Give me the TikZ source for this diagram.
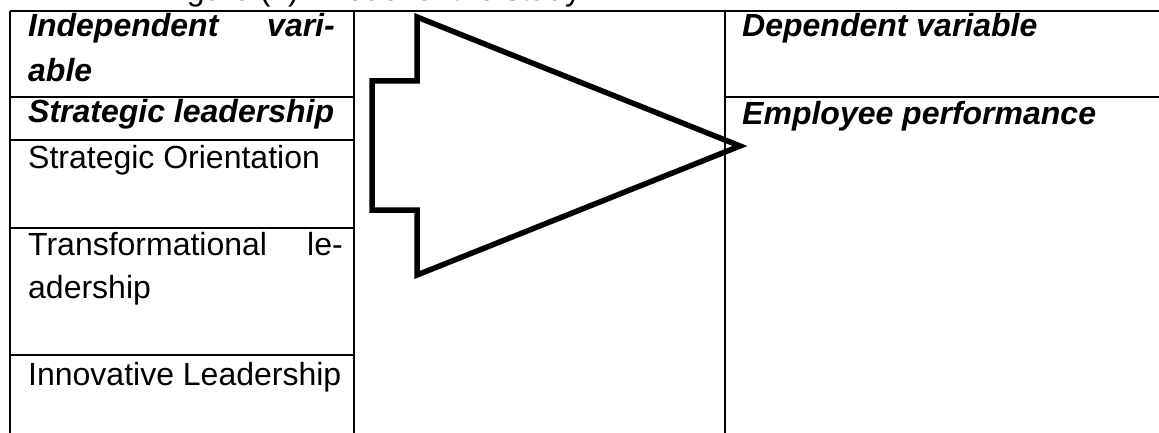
\documentclass[tikz,border=0pt]{standalone}
\usepackage{fontspec}
\setmainfont{Liberation Sans}
\begin{document}
\begin{tikzpicture}[x=1pt,y=-1pt,
  rule/.style={line width=2pt},
  head/.style={font=\fontsize{32}{40}\selectfont\bfseries\itshape, anchor=base west, inner sep=0pt},
  body/.style={font=\fontsize{32}{40}\selectfont, anchor=base west, inner sep=0pt},
  flow/.style={line width=5.5pt, line join=miter, miter limit=10}]
\useasboundingbox (0,0) rectangle (1159,433);
\begin{scope}
\clip (0,0) rectangle (1159,433);
% caption above the table (only its lower edge falls inside the page)
\node[body] (cap) at (160,1) {Figure (1): Model of the study};

% table rules
\draw[rule] (10,11) -- (1159,11);
\draw[rule] (10,11) -- (10,433);
\draw[rule] (354,11) -- (354,433);
\draw[rule] (725,11) -- (725,433);
\foreach \yy in {97,140,228,355} \draw[rule] (10,\yy) -- (354,\yy);
\draw[rule] (725,97) -- (1159,97);

% independent variable column
\node[head] (iv1) at (28,37) {Independent};
\node[head, anchor=base east] (iv2) at (335,37) {vari-};
\node[head] (iv3) at (28,82) {able};
\node[head] (sl) at (28,123) {Strategic leadership};
\node[body] (so) at (28,168) {Strategic Orientation};
\node[body] (tl1) at (28,255) {Transformational};
\node[body, anchor=base east] (tl2) at (343,255) {le-};
\node[body] (tl3) at (28,298) {adership};
\node[body] (il) at (28,385) {Innovative Leadership};

% dependent variable column
\node[head] (dv) at (742,37) {Dependent variable};
\node[head] (ep) at (742,125) {Employee performance};

% block arrow linking the two columns
\draw[flow] (417,17) -- (740,146) -- (417,275) -- (417,210) -- (372,210)
  -- (372,81) -- (417,81) -- cycle;
\end{scope}
\end{tikzpicture}
\end{document}
